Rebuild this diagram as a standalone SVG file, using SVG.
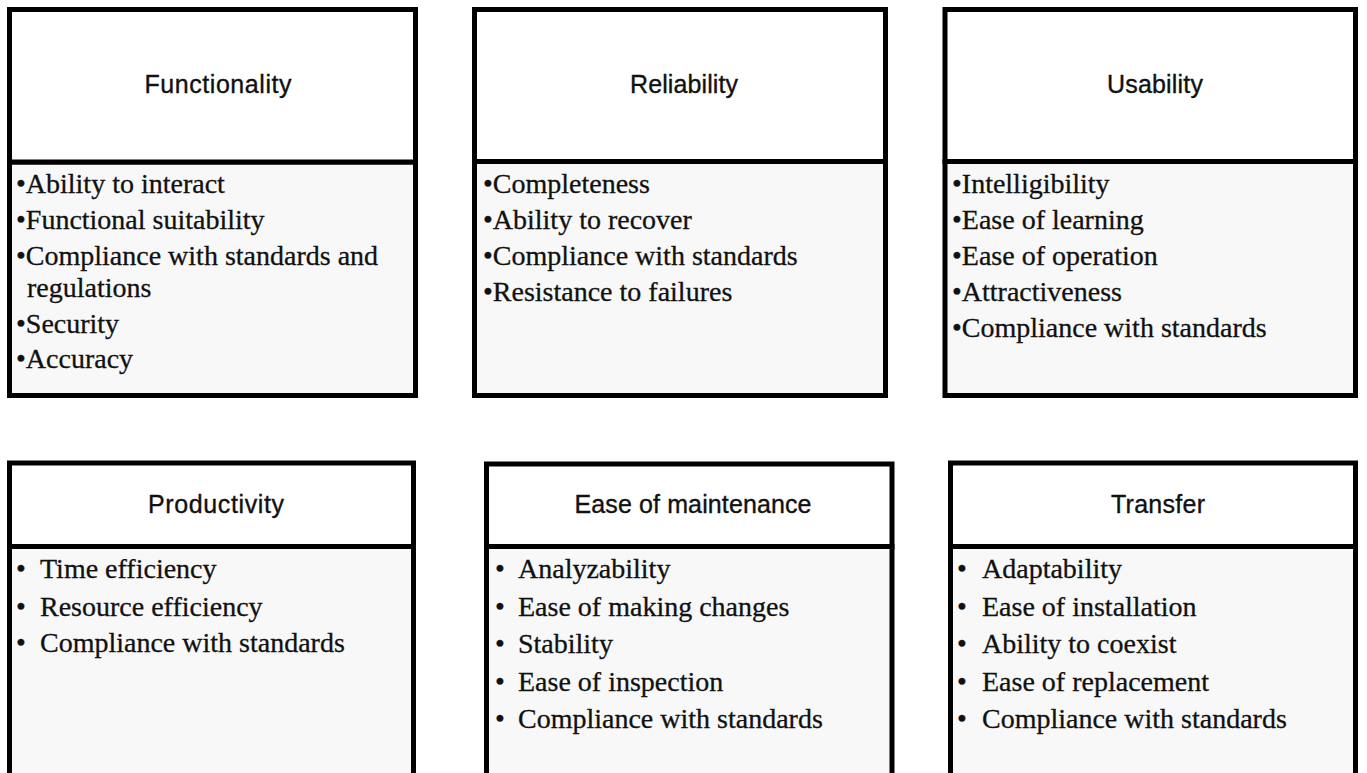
<svg xmlns="http://www.w3.org/2000/svg" width="1367" height="773" viewBox="0 0 1367 773">
<style>
.head{fill:#ffffff;stroke:#000;stroke-width:5}
.body{fill:#f8f8f8;stroke:#000;stroke-width:5}
.title{font-family:"Liberation Sans",Arial,sans-serif;font-size:25px;fill:#111;stroke:#111;stroke-width:0.35;text-anchor:middle}
.item{font-family:"Liberation Serif","Times New Roman",serif;font-size:28px;fill:#111;stroke:#111;stroke-width:0.3}
.item2{font-family:"Liberation Serif","Times New Roman",serif;font-size:28px;fill:#111;stroke:#111;stroke-width:0.3}
</style>
<rect x="0" y="0" width="1367" height="773" fill="#ffffff"/>
<g id="connectors"/>
<g id="functionality">
<rect class="body" x="9.5" y="162" width="406" height="233.5"/>
<rect class="head" x="9.5" y="9.5" width="406" height="152.5"/>
<text class="title" x="218" y="93" textLength="147" lengthAdjust="spacing">Functionality</text>
<text class="item" x="16" y="193">•Ability to interact</text>
<text class="item" x="16" y="229">•Functional suitability</text>
<text class="item" x="16" y="265">•Compliance with standards and</text>
<text class="item" x="27" y="297">regulations</text>
<text class="item" x="16" y="333">•Security</text>
<text class="item" x="16" y="368">•Accuracy</text>
</g>
<g id="reliability">
<rect class="body" x="474.5" y="161.5" width="411" height="234"/>
<rect class="head" x="474.5" y="9.5" width="411" height="152"/>
<text class="title" x="684" y="93" textLength="108" lengthAdjust="spacing">Reliability</text>
<text class="item" x="483" y="193">•Completeness</text>
<text class="item" x="483" y="229">•Ability to recover</text>
<text class="item" x="483" y="265">•Compliance with standards</text>
<text class="item" x="483" y="301">•Resistance to failures</text>
</g>
<g id="usability">
<rect class="body" x="945" y="161.5" width="410.5" height="234"/>
<rect class="head" x="945" y="9.5" width="410.5" height="152"/>
<text class="title" x="1155" y="93" textLength="96" lengthAdjust="spacing">Usability</text>
<text class="item" x="952" y="193">•Intelligibility</text>
<text class="item" x="952" y="229">•Ease of learning</text>
<text class="item" x="952" y="265">•Ease of operation</text>
<text class="item" x="952" y="301">•Attractiveness</text>
<text class="item" x="952" y="337">•Compliance with standards</text>
</g>
<g id="productivity">
<rect class="body" x="9.5" y="546.5" width="404" height="250"/>
<rect class="head" x="9.5" y="463" width="404" height="83.5"/>
<text class="title" x="216" y="513" textLength="136" lengthAdjust="spacing">Productivity</text>
<text class="item2" x="16" y="578">•</text><text class="item2" x="40" y="578">Time efficiency</text>
<text class="item2" x="16" y="616">•</text><text class="item2" x="40" y="616">Resource efficiency</text>
<text class="item2" x="16" y="652">•</text><text class="item2" x="40" y="652">Compliance with standards</text>
</g>
<g id="maintenance">
<rect class="body" x="486.5" y="546.5" width="405.5" height="250"/>
<rect class="head" x="486.5" y="464" width="405.5" height="82.5"/>
<text class="title" x="693" y="513" textLength="237" lengthAdjust="spacing">Ease of maintenance</text>
<text class="item2" x="495" y="578">•</text><text class="item2" x="518" y="578">Analyzability</text>
<text class="item2" x="495" y="616">•</text><text class="item2" x="518" y="616">Ease of making changes</text>
<text class="item2" x="495" y="653">•</text><text class="item2" x="518" y="653">Stability</text>
<text class="item2" x="495" y="691">•</text><text class="item2" x="518" y="691">Ease of inspection</text>
<text class="item2" x="495" y="728">•</text><text class="item2" x="518" y="728">Compliance with standards</text>
</g>
<g id="transfer">
<rect class="body" x="950.5" y="546.5" width="405" height="250"/>
<rect class="head" x="950.5" y="463" width="405" height="83.5"/>
<text class="title" x="1158" y="513" textLength="94" lengthAdjust="spacing">Transfer</text>
<text class="item2" x="957" y="578">•</text><text class="item2" x="982" y="578">Adaptability</text>
<text class="item2" x="957" y="616">•</text><text class="item2" x="982" y="616">Ease of installation</text>
<text class="item2" x="957" y="653">•</text><text class="item2" x="982" y="653">Ability to coexist</text>
<text class="item2" x="957" y="691">•</text><text class="item2" x="982" y="691">Ease of replacement</text>
<text class="item2" x="957" y="728">•</text><text class="item2" x="982" y="728">Compliance with standards</text>
</g>
</svg>
